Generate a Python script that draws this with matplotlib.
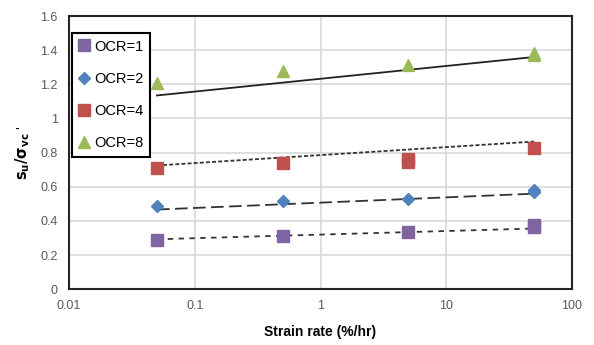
import matplotlib.pyplot as plt
from matplotlib.ticker import FixedLocator, FixedFormatter

# --- datos ---
ocr1_x = [0.05, 0.5, 5, 50, 50]
ocr1_y = [0.29, 0.31, 0.335, 0.365, 0.375]
ocr2_x = [0.05, 0.5, 5, 50, 50]
ocr2_y = [0.485, 0.515, 0.53, 0.57, 0.58]
ocr4_x = [0.05, 0.5, 5, 5, 50]
ocr4_y = [0.71, 0.74, 0.745, 0.76, 0.83]
ocr8_x = [0.05, 0.5, 5, 50, 50]
ocr8_y = [1.21, 1.28, 1.315, 1.37, 1.385]

# lineas de tendencia (extremos)
trend_x = [0.05, 50]
trend1 = [0.293, 0.356]
trend2 = [0.467, 0.56]
trend4 = [0.725, 0.865]
trend8 = [1.135, 1.36]

x_ticks = [0.01, 0.1, 1, 10, 100]
x_labels = ['0.01', '0.1', '1', '10', '100']
y_ticks = [0, 0.2, 0.4, 0.6, 0.8, 1.0, 1.2, 1.4, 1.6]
y_labels = ['0', '0.2', '0.4', '0.6', '0.8', '1', '1.2', '1.4', '1.6']

plt.rcParams['font.family'] = ['Liberation Sans', 'DejaVu Sans']

fig = plt.figure(figsize=(5.94, 3.45), dpi=100)
ax = fig.add_axes([0.1162, 0.1614, 0.8468, 0.7922])

# tendencias
ax.plot(trend_x, trend1, color='#333333', lw=1.3, ls=(0, (3, 3)), zorder=2)
ax.plot(trend_x, trend2, color='#333333', lw=1.3, ls=(0, (7, 3)), zorder=2)
ax.plot(trend_x, trend4, color='#333333', lw=1.3, ls=(0, (2.2, 1.2)), zorder=2)
ax.plot(trend_x, trend8, color='#222222', lw=1.3, ls='-', zorder=2)

# puntos
ax.plot(ocr1_x, ocr1_y, 's', color='#8064A2', ms=9, mec='#8064A2', ls='none', label='OCR=1', zorder=3)
ax.plot(ocr2_x, ocr2_y, 'D', color='#4F81BD', ms=6.5, mec='#4F81BD', ls='none', label='OCR=2', zorder=3)
ax.plot(ocr4_x, ocr4_y, 's', color='#C0504D', ms=9, mec='#C0504D', ls='none', label='OCR=4', zorder=3)
ax.plot(ocr8_x, ocr8_y, '^', color='#9BBB59', ms=9, mec='#9BBB59', ls='none', label='OCR=8', zorder=3)

ax.set_xscale('log')
ax.set_xlim(0.01, 100)
ax.set_ylim(0, 1.6)
ax.xaxis.set_major_locator(FixedLocator(x_ticks))
ax.xaxis.set_major_formatter(FixedFormatter(x_labels))
ax.xaxis.set_minor_locator(FixedLocator([]))
ax.set_yticks(y_ticks)
ax.set_yticklabels(y_labels)
ax.tick_params(axis='both', length=0, labelsize=9, colors='#595959', pad=8)

ax.grid(True, color='#D9D9D9', lw=1.2)
ax.set_axisbelow(True)
for s in ax.spines.values():
    s.set_color('#262626')
    s.set_linewidth(1.5)

ax.set_xlabel('Strain rate (%/hr)', fontsize=10, fontweight='bold', labelpad=9)
ax.set_ylabel(r"$\mathbf{s_u/\sigma_{vc}}$ '", fontsize=10.5, labelpad=6)

leg = ax.legend(loc='upper left', bbox_to_anchor=(0.006, 0.938), borderaxespad=0,
                fontsize=10.5, frameon=True, fancybox=False, edgecolor='#000000',
                handlelength=0.8, handletextpad=0.25, labelspacing=1.25,
                borderpad=0.45, framealpha=1)
leg.get_frame().set_linewidth(1.5)

plt.savefig('out.png', dpi=100)
plt.close()
